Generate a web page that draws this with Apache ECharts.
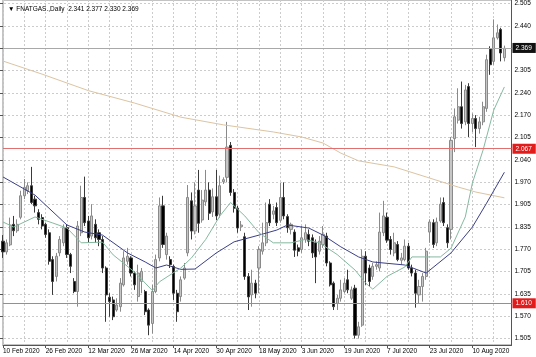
<!DOCTYPE html>
<html><head><meta charset="utf-8">
<script src="https://cdn.jsdelivr.net/npm/echarts@6/dist/echarts.min.js"></script>
<style>html,body{margin:0;padding:0;background:#fff}#c{width:536px;height:357px}</style>
</head><body><div id="c"></div>
<script>
// ---- data ----
const opens = [
1.795,1.763,1.784,1.845,1.826,1.866,1.930,1.945,1.960,1.920,
1.880,1.865,1.845,1.820,1.740,1.690,1.760,1.790,1.835,1.755,
1.675,1.645,1.820,1.925,1.855,1.810,1.845,1.820,1.800,1.715,
1.628,1.620,1.590,1.600,1.665,1.735,1.745,1.700,1.630,1.675,
1.645,1.590,1.550,1.645,1.745,1.900,1.755,1.740,1.720,1.640,
1.630,1.685,1.760,1.915,1.825,1.947,1.858,1.912,1.947,1.882,
1.927,1.875,1.972,1.985,2.080,1.940,1.893,1.838,1.808,1.690,
1.635,1.670,1.715,1.765,1.790,1.905,1.875,1.895,1.857,1.925,
1.868,1.830,1.822,1.775,1.770,1.800,1.815,1.805,1.790,1.765,
1.785,1.810,1.730,1.670,1.610,1.625,1.645,1.680,1.625,1.655,
1.515,1.545,1.750,1.715,1.690,1.720,1.715,1.820,1.866,1.800,
1.760,1.785,1.738,1.740,1.780,1.715,1.700,1.635,1.660,1.690,
1.822,1.850,1.790,1.855,1.910,1.835,1.830,2.100,2.155,2.195,
2.150,2.255,2.145,2.160,2.130,2.150,2.190,2.367,2.330,2.400,2.425,2.341];
const closes = [
1.763,1.790,1.843,1.826,1.845,1.930,1.955,1.960,1.910,1.900,
1.860,1.840,1.815,1.735,1.675,1.750,1.800,1.835,1.755,1.720,
1.645,1.840,1.925,1.850,1.805,1.870,1.805,1.800,1.715,1.635,
1.615,1.570,1.605,1.670,1.745,1.750,1.700,1.665,1.700,1.705,
1.585,1.545,1.645,1.740,1.900,1.785,1.810,1.725,1.640,1.585,
1.680,1.715,1.925,1.825,1.900,1.848,1.917,1.947,1.878,1.927,
1.870,1.960,1.978,2.075,1.940,1.893,1.834,1.843,1.690,1.629,
1.670,1.640,1.770,1.790,1.850,1.850,1.885,1.850,1.925,1.870,
1.835,1.845,1.768,1.765,1.805,1.820,1.795,1.760,1.748,1.795,
1.815,1.730,1.665,1.600,1.625,1.650,1.670,1.650,1.650,1.515,
1.540,1.750,1.700,1.675,1.720,1.725,1.822,1.870,1.798,1.770,
1.790,1.740,1.745,1.780,1.715,1.700,1.640,1.660,1.690,1.765,
1.852,1.785,1.852,1.905,1.850,1.790,2.095,2.165,2.195,2.145,
2.245,2.145,2.160,2.130,2.150,2.195,2.335,2.320,2.400,2.415,2.355,2.369];
const lows = [
1.745,1.755,1.780,1.810,1.820,1.860,1.920,1.935,1.905,1.880,
1.845,1.830,1.805,1.725,1.635,1.675,1.750,1.780,1.745,1.700,
1.640,1.600,1.810,1.840,1.790,1.800,1.790,1.780,1.700,1.555,
1.570,1.560,1.585,1.585,1.660,1.725,1.690,1.650,1.615,1.640,
1.575,1.515,1.520,1.640,1.735,1.775,1.740,1.715,1.620,1.555,
1.615,1.680,1.750,1.800,1.815,1.820,1.850,1.900,1.858,1.867,
1.858,1.865,1.965,1.970,1.930,1.880,1.820,1.825,1.680,1.590,
1.600,1.625,1.640,1.755,1.780,1.840,1.860,1.840,1.850,1.860,
1.820,1.815,1.748,1.750,1.760,1.790,1.780,1.745,1.670,1.755,
1.775,1.720,1.660,1.590,1.590,1.615,1.640,1.640,1.620,1.505,
1.505,1.540,1.665,1.660,1.680,1.710,1.705,1.810,1.790,1.755,
1.750,1.735,1.725,1.735,1.710,1.690,1.597,1.610,1.615,1.680,
1.790,1.775,1.780,1.850,1.840,1.775,1.800,2.060,2.145,2.130,
2.140,2.105,2.120,2.075,2.115,2.140,2.180,2.290,2.320,2.395,2.330,2.330];
const highs = [
1.813,1.800,1.865,1.870,1.860,1.945,1.980,1.970,2.016,1.930,
1.890,1.875,1.850,1.830,1.750,1.760,1.810,1.845,1.845,1.760,
1.685,1.855,1.960,1.987,1.870,1.905,1.860,1.830,1.810,1.720,
1.640,1.630,1.625,1.685,1.765,1.775,1.750,1.705,1.725,1.715,
1.650,1.595,1.665,1.755,1.925,1.930,1.820,1.750,1.725,1.650,
1.690,1.730,1.962,1.940,1.970,2.007,1.947,2.007,1.970,1.952,
2.007,1.990,1.985,2.150,2.090,1.950,1.900,1.855,1.820,1.700,
1.710,1.680,1.780,1.850,1.910,1.920,1.900,1.910,1.968,1.970,
1.875,1.850,1.830,1.785,1.840,1.845,1.830,1.815,1.800,1.810,
1.840,1.820,1.735,1.675,1.635,1.680,1.685,1.710,1.660,1.665,
1.555,1.770,1.765,1.725,1.730,1.735,1.880,1.915,1.880,1.810,
1.820,1.795,1.760,1.800,1.790,1.725,1.710,1.680,1.700,1.775,
1.860,1.860,1.865,1.925,1.925,1.845,2.105,2.190,2.250,2.270,
2.260,2.265,2.175,2.170,2.165,2.210,2.350,2.375,2.455,2.440,2.430,2.377];

// moving averages: [bar index, value]
const maSlow = [[0,2.331],[11,2.292],[24,2.243],[37,2.206],[50,2.164],[62,2.141],[76,2.120],[84,2.105],[90,2.087],[95,2.057],[100,2.034],[110,2.016],[119,1.986],[128,1.956],[133,1.941],[141,1.924]];
const maMid = [[0,1.986],[9,1.932],[18,1.843],[23,1.822],[28,1.813],[35,1.760],[40,1.733],[43,1.715],[46,1.724],[50,1.711],[54,1.712],[60,1.760],[65,1.793],[72,1.813],[77,1.828],[80,1.843],[86,1.834],[90,1.813],[95,1.778],[100,1.748],[104,1.733],[113,1.724],[119,1.700],[126,1.760],[132,1.837],[136,1.908],[141,2.000]];
const maFast = [[0,1.852],[3,1.837],[9,1.867],[14,1.849],[18,1.834],[22,1.790],[28,1.792],[31,1.754],[37,1.703],[42,1.648],[44,1.674],[50,1.715],[53,1.745],[57,1.800],[61,1.870],[64,1.910],[68,1.870],[72,1.820],[76,1.790],[81,1.790],[85,1.800],[89,1.790],[94,1.755],[99,1.709],[102,1.670],[104,1.652],[108,1.690],[113,1.718],[115,1.748],[119,1.748],[123,1.748],[126,1.774],[130,1.867],[132,1.968],[135,2.066],[138,2.185],[141,2.254]];

const dateLabels = ['10 Feb 2020','26 Feb 2020','12 Mar 2020','26 Mar 2020','14 Apr 2020','30 Apr 2020','18 May 2020','3 Jun 2020','19 Jun 2020','7 Jul 2020','23 Jul 2020','10 Aug 2020'];
const priceTickLabels = ['1.505','1.570','1.635','1.705','1.770','1.835','1.905','1.970','2.040','2.105','2.170','2.240','2.305','','2.440','2.505'];
const resistanceLevel = 2.067, supportLevel = 1.610, lastPrice = 2.369;
const headerText = '\u25BC FNATGAS.,Daily  2.341 2.377 2.330 2.369';

// ---- chart ----
const N = 144;
const cats = Array.from({length: N}, (_, i) => String(i));
const candles = opens.map((o, i) => [o, closes[i], lows[i], highs[i]]);
const FONT = 'Liberation Sans, Arial, sans-serif';
const grid = { color: '#cccccc', type: [2, 2], width: 1 };

const chart = echarts.init(document.getElementById('c'), null, {renderer: 'canvas'});
chart.setOption({
  animation: false,
  backgroundColor: '#ffffff',
  title: { text: headerText, left: 3, top: 1, textStyle: { fontSize: 6.5, fontWeight: 'normal', color: '#000', fontFamily: FONT } },
  grid: [
    { left: 0, right: 24.5, top: 0, bottom: 12, show: true, borderColor: '#888', borderWidth: 1, backgroundColor: 'transparent' },
    { left: 0, right: 24.5, top: 2.6, bottom: 18.4 }
  ],
  xAxis: [
    { type: 'category', gridIndex: 0, data: cats, boundaryGap: false,
      axisLine: { show: true, lineStyle: { color: '#555' } },
      axisTick: { show: true, interval: 11, length: 3, lineStyle: { color: '#555' } },
      axisLabel: { interval: 11, align: 'left', margin: 3, fontSize: 6.5, color: '#000', fontFamily: FONT,
        formatter: (v, idx) => (idx % 12 === 0 && dateLabels[idx / 12]) ? dateLabels[idx / 12] : '' },
      splitLine: { show: true, interval: 5, lineStyle: grid } },
    { type: 'value', gridIndex: 1, show: false, min: 0, max: 1 }
  ],
  yAxis: [
    { type: 'value', gridIndex: 0, min: 1.4859, max: 2.5127, position: 'right',
      axisLine: { show: true, lineStyle: { color: '#555' } }, axisTick: { show: false },
      axisLabel: { show: false }, splitLine: { show: false } },
    { type: 'value', gridIndex: 1, min: 0, max: 15, interval: 1, position: 'right',
      axisLine: { show: false },
      axisTick: { show: true, length: 3, lineStyle: { color: '#555' } },
      axisLabel: { margin: 3, fontSize: 6.5, color: '#000', fontFamily: FONT, showMaxLabel: true, showMinLabel: true, hideOverlap: false,
        formatter: v => priceTickLabels[Math.round(v)] || '' },
      splitLine: { show: true, lineStyle: grid } }
  ],
  series: [
    { type: 'candlestick', xAxisIndex: 0, yAxisIndex: 0, data: candles, barWidth: 2.6, z: 3,
      itemStyle: { color: '#c6c6c6', color0: '#000000', borderColor: '#8a8a8a', borderColor0: '#3a3a3a', borderWidth: 1 },
      markLine: { silent: true, symbol: ['none', 'none'], animation: false,
        data: [
          { yAxis: resistanceLevel, lineStyle: { color: '#e07070', type: 'solid', width: 1 },
            label: { show: true, position: 'end', distance: 1, formatter: resistanceLevel.toFixed(3), color: '#fff', backgroundColor: '#e21b1b', padding: [2, 4, 1, 3], fontSize: 6.5, fontFamily: FONT } },
          { yAxis: supportLevel, lineStyle: { color: '#e07070', type: 'solid', width: 1 },
            label: { show: true, position: 'end', distance: 1, formatter: supportLevel.toFixed(3), color: '#fff', backgroundColor: '#e21b1b', padding: [2, 4, 1, 3], fontSize: 6.5, fontFamily: FONT } },
          { yAxis: lastPrice, lineStyle: { color: '#a8a8a8', type: 'solid', width: 1 },
            label: { show: true, position: 'end', distance: 1, formatter: lastPrice.toFixed(3), color: '#fff', backgroundColor: '#111', padding: [2, 4, 1, 3], fontSize: 6.5, fontFamily: FONT } }
        ] } },
    { type: 'line', xAxisIndex: 0, yAxisIndex: 0, data: maSlow, showSymbol: false, z: 4, lineStyle: { color: '#dcc4a2', width: 1 } },
    { type: 'line', xAxisIndex: 0, yAxisIndex: 0, data: maMid, showSymbol: false, z: 4, lineStyle: { color: '#3b3f86', width: 1 } },
    { type: 'line', xAxisIndex: 0, yAxisIndex: 0, data: maFast, showSymbol: false, z: 4, lineStyle: { color: '#86b9a0', width: 1 } }
  ]
});
</script>
</body></html>
